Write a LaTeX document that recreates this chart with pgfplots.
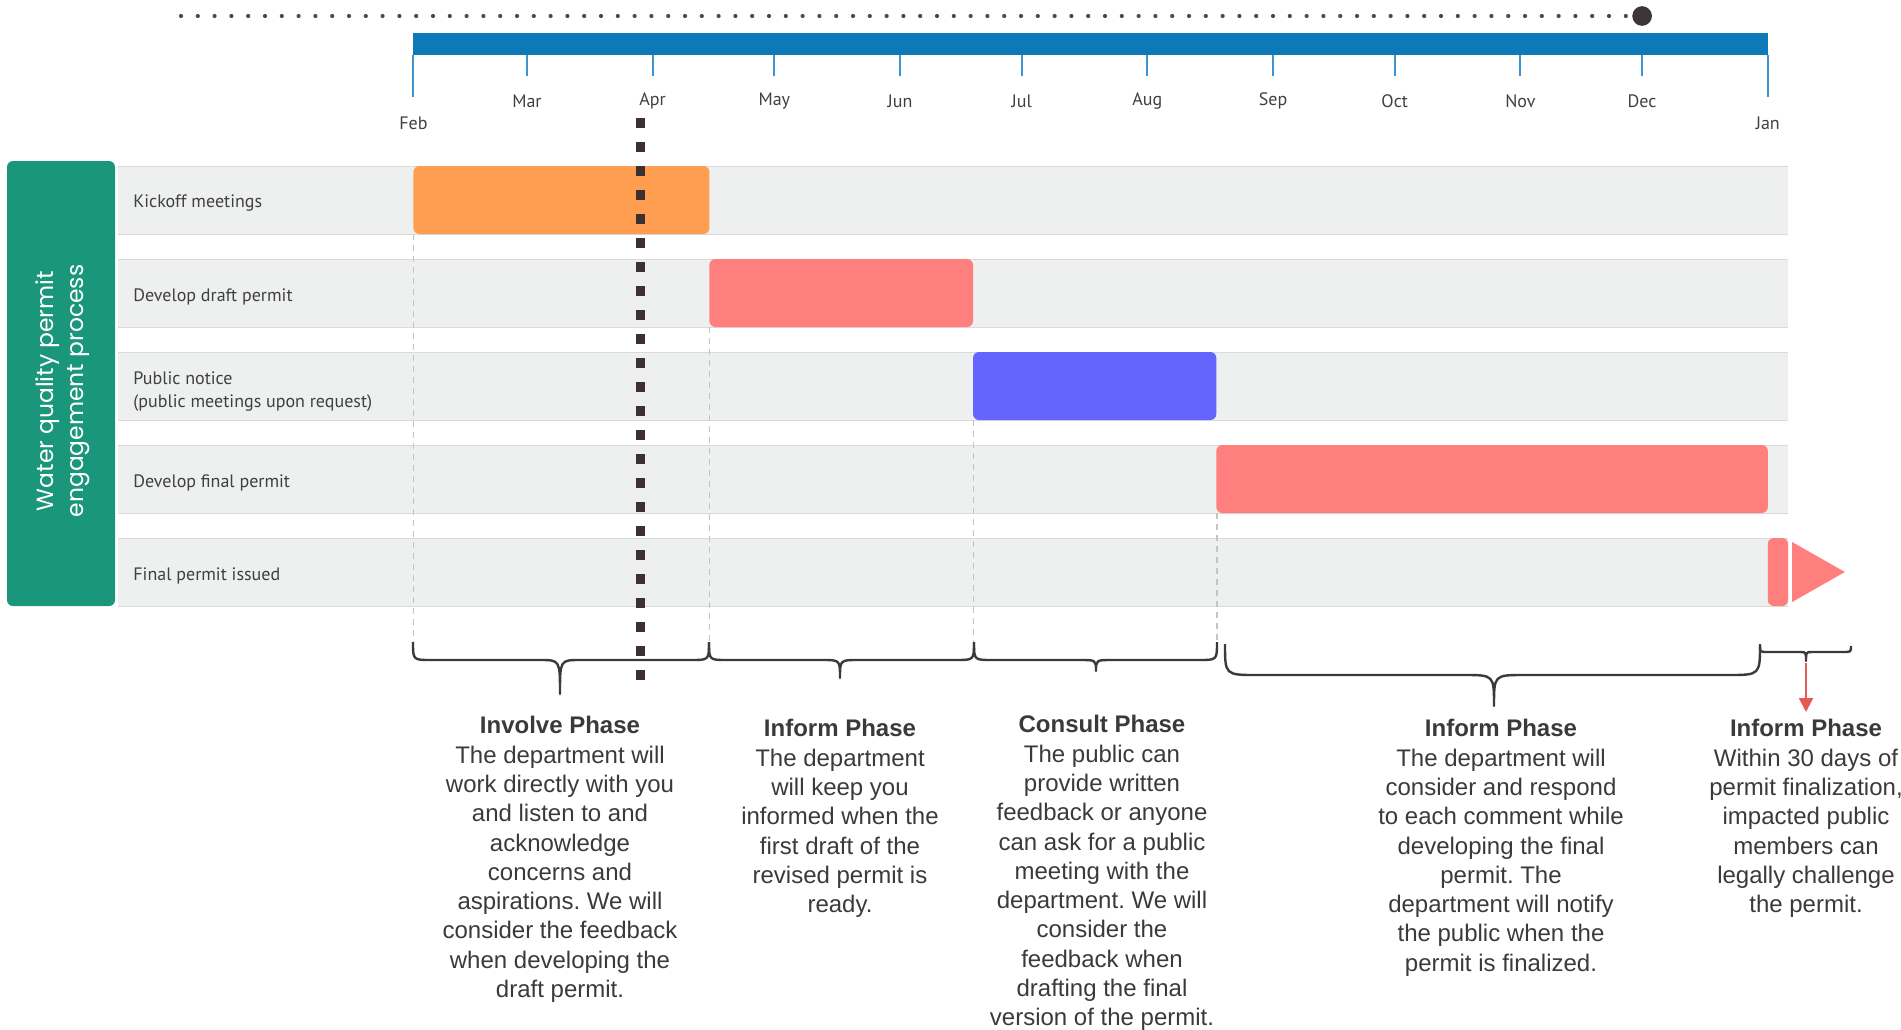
\documentclass[border=0pt]{standalone}
\usepackage{pgfplots}
\pgfplotsset{compat=1.18}
\usetikzlibrary{arrows.meta}
\usepackage{fontspec}
\setmainfont{Liberation Sans}
\newfontfamily\labfont{PT Sans}
\newfontfamily\boxfont{Poppins}
\frenchspacing
\definecolor{cOrange}{HTML}{FF9D50}
\definecolor{cSalmon}{HTML}{FF7E7E}
\definecolor{cBlue}{HTML}{6464FF}
\definecolor{cGreen}{HTML}{1A977A}
\definecolor{cBand}{HTML}{EEEFEF}
\definecolor{cBandLine}{HTML}{DADADA}
\definecolor{cTime}{HTML}{0E79B8}
\definecolor{cTick}{HTML}{3E94CF}
\definecolor{cToday}{HTML}{3D3033}
\definecolor{cText}{HTML}{3A3A3A}
\definecolor{cLabel}{HTML}{404040}
\definecolor{cBrace}{HTML}{3A3A3A}
\definecolor{cArrow}{HTML}{E55A52}
\definecolor{cGuide}{HTML}{C4C4C4}
\definecolor{cDot}{HTML}{3D3536}

% x1 x2 yend yline xtip ytip rend rtip  (pixel units)
\newcommand{\phbrace}[8]{%
 \draw[cBrace, line width=1.2pt, line join=round]
 (#1,#3) .. controls (#1,#4) and (#1,#4) .. ({#1+#7},#4)
 -- ({#5-#8},#4) .. controls (#5,#4) and (#5,#4) .. (#5,#6)
 .. controls (#5,#4) and (#5,#4) .. ({#5+#8},#4)
 -- ({#2-#7},#4) .. controls (#2,#4) and (#2,#4) .. (#2,#3);}

\begin{document}
\begin{tikzpicture}
\begin{scope}[x=0.5pt,y=-0.5pt]
 % row bands
 \foreach \t in {166,259,352,445,538} {
   \fill[cBand] (118,\t) rectangle (1788,{\t+68});
   \draw[cBandLine, line width=0.5pt] (118,\t) -- (1788,\t) (118,{\t+68}) -- (1788,{\t+68});
 }
 % green box
 \fill[cGreen, rounded corners=3pt] (7,161) rectangle (115,606);
 \node[rotate=90, white, align=center, inner sep=0pt,
       font=\boxfont\fontsize{11.7}{15}\selectfont] at (63,391)
   {Water quality permit\\engagement process};
 % row labels
 \begin{scope}[every node/.style={anchor=west, inner sep=0pt, text=cLabel, font=\labfont\fontsize{9}{11}\selectfont}]
  \node at (133,203.5) {Kickoff meetings};
  \node at (133,296.5) {Develop draft permit};
  \node at (133,378) {Public notice};
  \node at (133,403) {(public meetings upon request)};
  \node at (133,482.5) {Develop final permit};
  \node at (133,575.5) {Final permit issued};
 \end{scope}
 % timeline bar and ticks
 \fill[cTime] (413.4,33) rectangle (1767.7,55);
 \foreach \d/\m in {28/Mar,59/Apr,89/May,120/Jun,150/Jul,181/Aug,212/Sep,242/Oct,273/Nov,303/Dec} {
   \draw[cTick, line width=1pt] ({413.4+4.055*\d},55) -- ({413.4+4.055*\d},76);
   \node[text=cLabel, inner sep=0pt, font=\labfont\fontsize{9}{11}\selectfont] at ({413.4+4.055*\d},101) {\m};
 }
 \foreach \d/\m in {0/Feb,334/Jan} {
   \draw[cTick, line width=1pt] ({413.4+4.055*\d},55) -- ({413.4+4.055*\d},97);
   \node[text=cLabel, inner sep=0pt, font=\labfont\fontsize{9}{11}\selectfont] at ({413.4+4.055*\d},123) {\m};
 }
 % dotted line at top
 \draw[cDot!90, line width=2.1pt, line cap=round, dash pattern=on 0pt off 8.4pt] (181,16) -- (1641.6,16);
 % light dashed guides
 \begin{scope}[cGuide, line width=0.6pt, dash pattern=on 3pt off 2.5pt]
  \draw (413.4,234) -- (413.4,642);
  \draw (709.5,327) -- (709.5,642);
  \draw (973.5,420) -- (973.5,642);
  \draw (1217,513) -- (1217,642);
 \end{scope}
 % braces
 \phbrace{413}{709}{642}{660}{560}{694}{18}{20}
 \phbrace{709}{974}{642}{660}{840}{678}{18}{18}
 \phbrace{974}{1217}{642}{660}{1096}{671}{18}{16}
 \phbrace{1225}{1760}{644}{675}{1494}{706}{32}{30}
 \phbrace{1760}{1851}{646}{652}{1806}{661}{8}{6}
 \draw[cArrow, line width=1.1pt, -{Triangle[width=7pt,length=7pt]}] (1806,663) -- (1806,712);
 % phase texts
 \begin{scope}[every node/.style={anchor=north, align=center, inner sep=0pt, text=cText, font=\fontsize{12}{14.65}\selectfont}]
  \node at (560,716) {\textbf{Involve Phase}\\The department will\\work directly with you\\and listen to and\\acknowledge\\concerns and\\aspirations. We will\\consider the feedback\\when developing the\\draft permit.};
  \node at (840,719) {\textbf{Inform Phase}\\The department\\will keep you\\informed when the\\first draft of the\\revised permit is\\ready.};
  \node at (1102,715) {\textbf{Consult Phase}\\The public can\\provide written\\feedback or anyone\\can ask for a public\\meeting with the\\department. We will\\consider the\\feedback when\\drafting the final\\version of the permit.};
  \node at (1501,719) {\textbf{Inform Phase}\\The department will\\consider and respond\\to each comment while\\developing the final\\permit. The\\department will notify\\the public when the\\permit is finalized.};
  \node at (1806,719) {\textbf{Inform Phase}\\Within 30 days of\\permit finalization,\\impacted public\\members can\\legally challenge\\the permit.};
 \end{scope}
\end{scope}

\begin{axis}[at={(0pt,0pt)}, anchor=north west,
  scale only axis, width=950.5pt, height=514.5pt,
  xmin=-101.95, xmax=366.85, ymin=0, ymax=1029, y dir=reverse,
  hide axis, clip=false]
 % task bars: x = days after Feb 1, y = pixel rows
 \addplot[draw=none, fill=cOrange, rounded corners=3pt] coordinates {(0,166) (73,166) (73,234) (0,234)} -- cycle;
 \addplot[draw=none, fill=cSalmon, rounded corners=3pt] coordinates {(73,259) (138,259) (138,327) (73,327)} -- cycle;
 \addplot[draw=none, fill=cBlue, rounded corners=3pt] coordinates {(138,352) (198,352) (198,420) (138,420)} -- cycle;
 \addplot[draw=none, fill=cSalmon, rounded corners=3pt] coordinates {(198,445) (334,445) (334,513) (198,513)} -- cycle;
 \addplot[draw=none, fill=cSalmon, rounded corners=3pt] coordinates {(334,538) (339,538) (339,606) (334,606)} -- cycle;
 \addplot[draw=none, fill=cSalmon] coordinates {(340,542) (353,572) (340,602)} -- cycle;
 % current date marker
 \addplot[cToday, line width=4.6pt, dash pattern=on 5pt off 7pt] coordinates {(56,118) (56,685)};
 % milestone dot
 \addplot[only marks, mark=*, mark size=4.7pt, mark options={fill=cDot, draw=cDot}] coordinates {(303,16)};
\end{axis}
\pgfresetboundingbox
\useasboundingbox (0,0) rectangle (950.5pt,-514.5pt);
\end{tikzpicture}
\end{document}
